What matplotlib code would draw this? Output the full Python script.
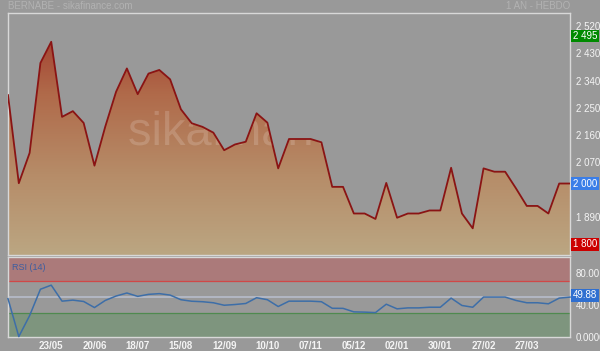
import numpy as np
import matplotlib
matplotlib.use('Agg')
import matplotlib.pyplot as plt
from matplotlib.colors import LinearSegmentedColormap
from matplotlib.textpath import TextPath
from matplotlib.patches import PathPatch
from matplotlib.font_manager import FontProperties
from matplotlib.transforms import Affine2D

plt.rcParams['font.family'] = ['Liberation Sans', 'DejaVu Sans']

# weekly closes (1 year)
close = [2292, 2001, 2101, 2398, 2468, 2220, 2239, 2200, 2059, 2188,
         2303, 2380, 2295, 2363, 2375, 2344, 2245, 2199, 2187, 2168,
         2110, 2129, 2138, 2232, 2201, 2050, 2147, 2147, 2147, 2136,
         1989, 1989, 1901, 1901, 1883, 2002, 1887, 1901, 1901, 1911,
         1911, 2052, 1901, 1852, 2050, 2039, 2039, 1984, 1926, 1926,
         1901, 2000, 2000]
rsi = [47.9, 0.5, 26.7, 59.7, 64.8, 44.8, 46.1, 44.4, 36.8, 45.7,
       51.2, 55.0, 50.8, 53.3, 54.2, 52.4, 46.6, 44.7, 44.1, 42.8,
       39.7, 40.6, 41.9, 49.1, 46.6, 38.1, 44.8, 44.8, 44.8, 44.1,
       35.9, 35.8, 31.4, 31.1, 30.5, 41.0, 35.2, 36.4, 36.4, 37.2,
       37.2, 48.6, 39.4, 37.2, 49.9, 49.9, 49.9, 45.7, 42.8, 42.8,
       41.5, 48.6, 49.88]
tick_labels = ['23/05', '20/06', '18/07', '15/08', '12/09', '10/10',
               '07/11', '05/12', '02/01', '30/01', '27/02', '27/03']
price_ticks = [1890, 2070, 2160, 2250, 2340, 2430, 2520]
rsi_ticks = [0, 40, 80]
last_close = 2000
year_high = 2495
year_low = 1800
last_rsi = 49.88

bg = '#999999'
x = np.arange(len(close))
ymin, ymax = 1764, 2563

fig = plt.figure(figsize=(6, 3.51), dpi=100, facecolor=bg)

# ---- price panel
ax = fig.add_axes([8/600, 1-255/351, 562/600, 242/351], facecolor=bg)
ax.set_xlim(0, len(close)-1)
ax.set_ylim(ymin, ymax)

cmap = LinearSegmentedColormap.from_list('fill', ['#bba682', '#b68c68', '#b06a4a', '#9e3328'])
grad = np.linspace(0, 1, 256).reshape(-1, 1)
im = ax.imshow(grad, extent=[0, len(close)-1, ymin, ymax], origin='lower',
               aspect='auto', cmap=cmap, zorder=1)
poly = ax.fill_between(x, close, ymin, color='none', lw=0)
clip = poly.get_paths()[0]
im.set_clip_path(clip, transform=ax.transData)
ax.plot(x, close, color='#8a1414', lw=1.3, zorder=3)

# watermark, only visible over the filled area (pixel coords)
tp = TextPath((0, 0), 'sikafinance', size=47, prop=FontProperties(family='Liberation Sans'))
wm = PathPatch(tp, transform=Affine2D().translate(128, 351 - 145), fc='white',
               ec='none', alpha=0.16, zorder=2)
ax.add_artist(wm)
wm.set_clip_path(clip, transform=ax.transData)

ax.yaxis.tick_right()
ax.set_yticks(price_ticks)
ax.set_yticklabels([f'{v:,}'.replace(',', ' ') for v in price_ticks])
ax.tick_params(axis='y', length=0, pad=4, labelsize=7, labelcolor='#f4f4f4')
ax.set_xticks([])
for s in ax.spines.values():
    s.set_color('#d8d8d8')
    s.set_linewidth(1)

for val, col, dy in [(year_high, '#008a00', -8), (last_close, '#3a7ee8', 0), (year_low, '#cc0000', 0)]:
    ax.text(1.005, val + dy, f'{val:,}'.replace(',', ' '), transform=ax.get_yaxis_transform(),
            fontsize=7, color='white', va='center', ha='left',
            bbox=dict(boxstyle='square,pad=0.15', fc=col, ec='none'))

fig.text(8/600, 1-6/351, 'BERNABE - sikafinance.com', fontsize=7, color='#b2b2b2', va='center')
fig.text(570/600, 1-6/351, '1 AN - HEBDO', fontsize=7, color='#b2b2b2', va='center', ha='right')

# ---- RSI panel
ax2 = fig.add_axes([8/600, 1-337/351, 562/600, 80/351], facecolor=bg)
ax2.set_xlim(0, len(close)-1)
ax2.set_ylim(0, 100)
ax2.axhspan(70, 100, color='#ab7a7a', lw=0, zorder=0)
ax2.axhspan(0, 30, color='#7e957e', lw=0, zorder=0)
ax2.axhline(70, color='#d04848', lw=0.9, zorder=1)
ax2.axhline(30, color='#4f8a4f', lw=0.9, zorder=1)
ax2.axhline(50, color='#b6bccb', lw=1.2, zorder=1)
ax2.plot(x, rsi, color='#3d6ea8', lw=1.1, zorder=3, clip_on=False)
ax2.text(0.007, 0.93, 'RSI (14)', transform=ax2.transAxes, fontsize=6.5,
         color='#3d5ea0', va='top')

ax2.yaxis.tick_right()
ax2.set_yticks(rsi_ticks)
ax2.set_yticklabels(['0.0000', '40.00', '80.00'])
ax2.tick_params(axis='y', length=0, pad=4, labelsize=7, labelcolor='#f4f4f4')
ax2.set_xticks(range(4, 4 * len(tick_labels) + 1, 4))
ax2.set_xticklabels(tick_labels)
ax2.tick_params(axis='x', length=0, pad=3, labelsize=7, labelcolor='#f4f4f4')
for lab in ax2.get_xticklabels():
    lab.set_fontweight('bold')
for s in ax2.spines.values():
    s.set_color('#d8d8d8')
    s.set_linewidth(1)
ax2.text(1.005, last_rsi + 2, f'{last_rsi:.2f}', transform=ax2.get_yaxis_transform(),
         fontsize=7, color='white', va='center', ha='left',
         bbox=dict(boxstyle='square,pad=0.15', fc='#2f6fd0', ec='none'))

fig.savefig('out.png', dpi=100, facecolor=bg)
